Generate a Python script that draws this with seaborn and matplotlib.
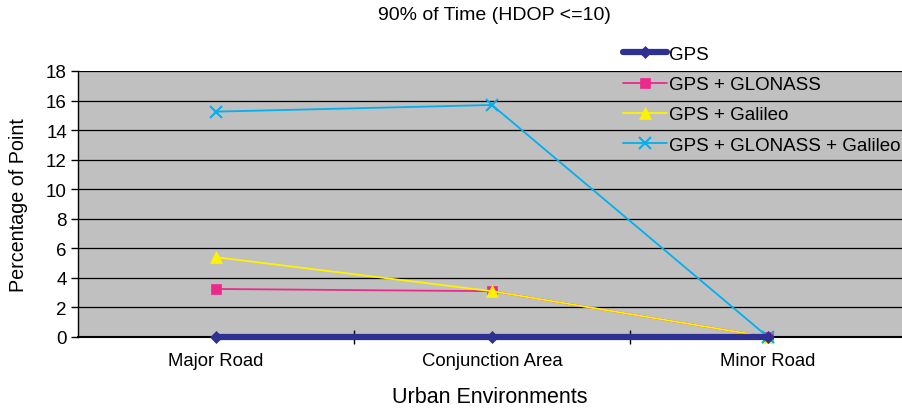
import matplotlib
matplotlib.use("Agg")
import matplotlib.pyplot as plt
import seaborn as sns
import pandas as pd

categories = ["Major Road", "Conjunction Area", "Minor Road"]
series_names = ["GPS", "GPS + GLONASS", "GPS + Galileo", "GPS + GLONASS + Galileo"]
gps = [0, 0, 0]
gps_glonass = [3.25, 3.1, 0]
gps_galileo = [5.4, 3.1, 0]
gps_all = [15.25, 15.7, 0]
yticks = [0, 2, 4, 6, 8, 10, 12, 14, 16, 18]

sns.set_theme(style="white")
plt.rcParams["font.family"] = ["Liberation Sans", "DejaVu Sans"]
plt.rcParams["text.color"] = "black"
plt.rcParams["axes.labelcolor"] = "black"
plt.rcParams["xtick.color"] = "black"
plt.rcParams["ytick.color"] = "black"

fig = plt.figure(figsize=(9.02, 4.10), dpi=100)
ax = fig.add_axes([78/902, 1-338/410, 824/902, 266/410])
ax.set_facecolor("#C0C0C0")

styles = [
    (gps, "#2E3192", "D", 4.5, 6),
    (gps_glonass, "#EC2A8C", "s", 1.3, 7),
    (gps_galileo, "#FFF200", "^", 1.3, 8),
    (gps_all, "#00B0F0", "x", 1.3, 8),
]
order = [1, 2, 3, 0]
for i in order:
    vals, col, mk, lw, ms = styles[i]
    df = pd.DataFrame({"cat": categories, "val": vals})
    sns.lineplot(data=df, x="cat", y="val", ax=ax, color=col, marker=mk,
                 linewidth=lw, markersize=ms, markeredgecolor=col,
                 markeredgewidth=1.5 if mk == "x" else 0.5,
                 label=series_names[i], zorder=3 + (1 if i == 0 else 0), clip_on=False)

ax.set_ylim(0, 18)
ax.set_xlim(-0.5, -0.5 + 824/276)
ax.set_yticks(yticks)
ax.set_yticklabels([str(t) for t in yticks], fontsize=13.5)
ax.grid(axis="y", color="black", linewidth=0.9)
ax.set_axisbelow(True)
for s in ["top", "right"]:
    ax.spines[s].set_visible(False)
ax.spines["left"].set_color("black")
ax.spines["bottom"].set_color("black")
ax.spines["left"].set_linewidth(1)
ax.spines["bottom"].set_linewidth(1.5)
ax.tick_params(axis="y", direction="out", length=5, width=1, color="black", left=True, pad=3)
ax.tick_params(axis="x", which="major", length=0, labelsize=13.3, pad=11)
ax.set_xticks([0.5, 1.5], minor=True)
ax.tick_params(axis="x", which="minor", direction="inout", length=10, width=1, color="black", bottom=True)
ax.set_xlabel("Urban Environments", fontsize=15.5, labelpad=12)
ax.set_ylabel("Percentage of Point", fontsize=14.2, labelpad=13)
fig.text(494/902, 1-15/410, "90% of Time (HDOP <=10)", ha="center", va="center", fontsize=14)

h, l = ax.get_legend_handles_labels()
idx = [l.index(n) for n in series_names]
leg = ax.legend([h[j] for j in idx], [l[j] for j in idx], loc="upper left",
                bbox_to_anchor=(615/902, 1-39/410), bbox_transform=fig.transFigure,
                frameon=False, fontsize=13.5, handlelength=2.35, handletextpad=0.12,
                labelspacing=0.71, borderaxespad=0)

fig.savefig("out.png", dpi=100)
